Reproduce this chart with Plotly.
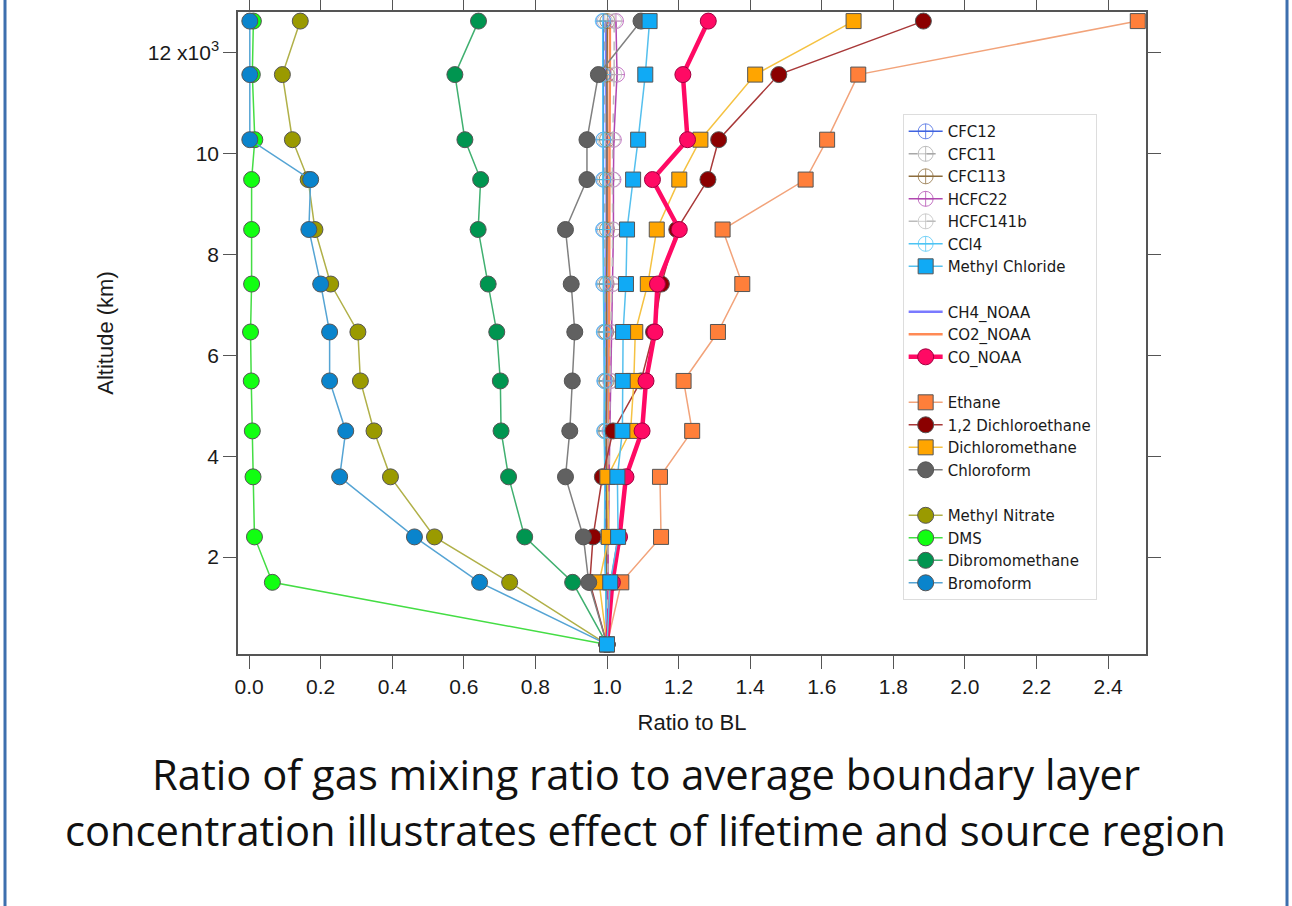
import plotly.graph_objects as go

# Altitude of each sampling level (m)
altitude = [270, 1500, 2400, 3590, 4500, 5490, 6460, 7410, 8490, 9480, 10270, 11560, 12620]

# Ratio to boundary-layer average, bottom level first
cfc12 = [1.0, 0.996, 0.994, 0.995, 0.993, 0.993, 0.992, 0.990, 0.990, 0.990, 0.990, 0.989, 0.990]
cfc11 = [1.0, 0.998, 0.996, 0.997, 0.995, 0.996, 0.995, 0.994, 0.994, 0.994, 0.995, 0.993, 0.994]
cfc113 = [1.0, 0.999, 0.998, 0.999, 0.998, 0.999, 0.998, 0.999, 1.000, 0.999, 1.000, 1.000, 1.001]
hcfc22 = [1.0, 1.003, 1.005, 1.006, 1.008, 1.010, 1.012, 1.016, 1.018, 1.018, 1.019, 1.028, 1.025]
hcfc141b = [1.0, 1.002, 1.004, 1.004, 1.006, 1.008, 1.010, 1.014, 1.016, 1.015, 1.016, 1.020, 1.020]
ccl4 = [1.0, 0.995, 0.993, 0.994, 0.992, 0.993, 0.991, 0.990, 0.989, 0.989, 0.990, 0.988, 0.988]
methyl_chloride = [1.0, 1.009, 1.031, 1.029, 1.043, 1.044, 1.045, 1.053, 1.056, 1.073, 1.087, 1.107, 1.119]
ch4_noaa = [1.0, 0.999, 0.998, 0.999, 0.998, 0.999, 0.998, 0.998, 0.999, 0.998, 0.999, 0.998, 0.998]
co2_noaa = [1.0, 1.002, 1.004, 1.004, 1.005, 1.005, 1.006, 1.005, 1.006, 1.006, 1.007, 1.008, 1.008]
co_noaa = [1.0, 1.015, 1.035, 1.053, 1.098, 1.109, 1.134, 1.141, 1.202, 1.127, 1.225, 1.212, 1.283]
ethane = [1.0, 1.040, 1.151, 1.148, 1.238, 1.214, 1.310, 1.378, 1.323, 1.555, 1.615, 1.702, 2.483]
dichloroethane = [1.0, 0.952, 0.961, 0.987, 1.017, 1.095, 1.130, 1.152, 1.195, 1.282, 1.312, 1.480, 1.884]
dichloromethane = [1.0, 0.978, 1.005, 1.001, 1.066, 1.075, 1.079, 1.114, 1.139, 1.202, 1.261, 1.414, 1.689]
chloroform = [1.0, 0.949, 0.934, 0.884, 0.896, 0.903, 0.910, 0.900, 0.884, 0.944, 0.944, 0.976, 1.095]
methyl_nitrate = [1.0, 0.728, 0.518, 0.395, 0.349, 0.311, 0.304, 0.228, 0.184, 0.165, 0.121, 0.093, 0.143]
dms = [1.0, 0.065, 0.015, 0.011, 0.009, 0.006, 0.004, 0.007, 0.007, 0.007, 0.016, 0.009, 0.012]
dibromomethane = [1.0, 0.904, 0.770, 0.725, 0.704, 0.702, 0.692, 0.668, 0.640, 0.647, 0.603, 0.575, 0.641]
bromoform = [1.0, 0.644, 0.462, 0.253, 0.270, 0.225, 0.225, 0.200, 0.167, 0.172, 0.002, 0.002, 0.002]

x_ticks = [0.0, 0.2, 0.4, 0.6, 0.8, 1.0, 1.2, 1.4, 1.6, 1.8, 2.0, 2.2, 2.4]
y_ticks = [2000, 4000, 6000, 8000, 10000, 12000]
y_ticklabels = ["2", "4", "6", "8", "10", "12 x10<sup>3</sup>"]

EDGE = "#555555"
SANS = "Liberation Sans, Arial, sans-serif"

fig = go.Figure()


def add(name, x, group, rank, line_color, width=1.5, dash="solid",
        symbol=None, fill=None, size=15, edge=EDGE):
    marker = None
    if symbol is not None:
        if symbol.endswith("-open"):
            marker = dict(symbol=symbol, size=size, color=line_color,
                          line=dict(color=line_color, width=1), opacity=0.75)
        else:
            marker = dict(symbol=symbol, size=size, color=fill,
                          line=dict(color=edge, width=1))
    fig.add_trace(go.Scatter(
        x=x, y=altitude, name=name, mode="lines+markers" if symbol else "lines",
        line=dict(color=line_color, width=width, dash=dash),
        marker=marker, legendgroup=group, legendrank=rank,
    ))


# long-lived background gases (lines only)
add("CH4_NOAA", ch4_noaa, "g2", 8, "#7a7aff", width=2.5)
add("CO2_NOAA", co2_noaa, "g2", 9, "#ff8a55", width=2.5)
# halocarbons with open crossed circles
add("CFC12", cfc12, "g1", 1, "#3f63e0", symbol="circle-cross-open")
add("CFC11", cfc11, "g1", 2, "#a8a8a8", dash="dash", symbol="circle-cross-open")
add("CFC113", cfc113, "g1", 3, "#8c6c3c", symbol="circle-cross-open")
add("HCFC22", hcfc22, "g1", 4, "#b048b0", symbol="circle-cross-open")
add("HCFC141b", hcfc141b, "g1", 5, "#bcbcbc", dash="dash", symbol="circle-cross-open")
add("CCl4", ccl4, "g1", 6, "#4cc4f4", symbol="circle-cross-open")
# short-lived / anthropogenic tracers
add("Ethane", ethane, "g3", 11, "#f2a37a", symbol="square", fill="#ff7f3a", size=15)
add("1,2 Dichloroethane", dichloroethane, "g3", 12, "#a83838", symbol="circle", fill="#8b0000", size=16)
add("Dichloromethane", dichloromethane, "g3", 13, "#f5c242", symbol="square", fill="#ffa500", size=15)
add("CO_NOAA", co_noaa, "g2", 10, "#ff0a64", width=4.5, symbol="circle", fill="#ff0a64",
    size=16, edge="#a00040")
add("Chloroform", chloroform, "g3", 14, "#808080", symbol="circle", fill="#616161", size=16)
# marine / biogenic tracers
add("Methyl Nitrate", methyl_nitrate, "g4", 15, "#b0b048", symbol="circle", fill="#9a9a00", size=16)
add("DMS", dms, "g4", 16, "#44dd44", symbol="circle", fill="#11ff11", size=16)
add("Dibromomethane", dibromomethane, "g4", 17, "#40b070", symbol="circle", fill="#009550", size=16)
add("Bromoform", bromoform, "g4", 18, "#55a4d4", symbol="circle", fill="#0a84cc", size=16)
add("Methyl Chloride", methyl_chloride, "g1", 7, "#55c0ee", symbol="square", fill="#10aaf5", size=15)

axis_common = dict(
    showline=True, linecolor="#555555", linewidth=1.5, mirror="ticks",
    ticks="outside", ticklen=13, tickwidth=1.2, tickcolor="#555555",
    showgrid=False, zeroline=False, automargin=False,
    tickfont=dict(family=SANS, size=21, color="#1a1a1a"),
)

fig.update_xaxes(
    range=[-0.031, 2.506], tickvals=x_ticks, tickformat=".1f",
    title=dict(text="Ratio to BL", font=dict(family=SANS, size=22, color="#1a1a1a"),
               standoff=18),
    **axis_common,
)
fig.update_yaxes(
    range=[80, 12800], tickvals=y_ticks, ticktext=y_ticklabels,
    title=dict(text="Altitude (km)", font=dict(family=SANS, size=22, color="#1a1a1a"),
               standoff=28),
    **axis_common,
)

fig.update_layout(
    width=1292, height=906,
    margin=dict(l=238, r=146, t=12, b=252),
    paper_bgcolor="white", plot_bgcolor="white",
    showlegend=True,
    legend=dict(
        x=0.732, y=0.841, xanchor="left", yanchor="top",
        bgcolor="white", bordercolor="#dddddd", borderwidth=1,
        font=dict(family="DejaVu Sans, sans-serif", size=15, color="#1a1a1a"),
        traceorder="grouped", tracegroupgap=23, itemwidth=34,
    ),
    annotations=[
        dict(text="Ratio of gas mixing ratio to average boundary layer",
             xref="paper", yref="paper", x=0.4493, y=-0.1854,
             xanchor="center", yanchor="middle", showarrow=False,
             font=dict(family="Open Sans, Noto Sans, sans-serif", size=41.7, color="#111111")),
        dict(text="concentration illustrates effect of lifetime and source region",
             xref="paper", yref="paper", x=0.4493, y=-0.274,
             xanchor="center", yanchor="middle", showarrow=False,
             font=dict(family="Open Sans, Noto Sans, sans-serif", size=41.7, color="#111111")),
    ],
    shapes=[
        dict(type="line", xref="paper", yref="paper", x0=-0.2566, x1=-0.2566,
             y0=-0.42, y1=1.04, line=dict(color="#3d6fae", width=3)),
        dict(type="line", xref="paper", yref="paper", x0=1.1553, x1=1.1553,
             y0=-0.42, y1=1.04, line=dict(color="#3d6fae", width=3)),
    ],
)

fig.write_html("out.html")
